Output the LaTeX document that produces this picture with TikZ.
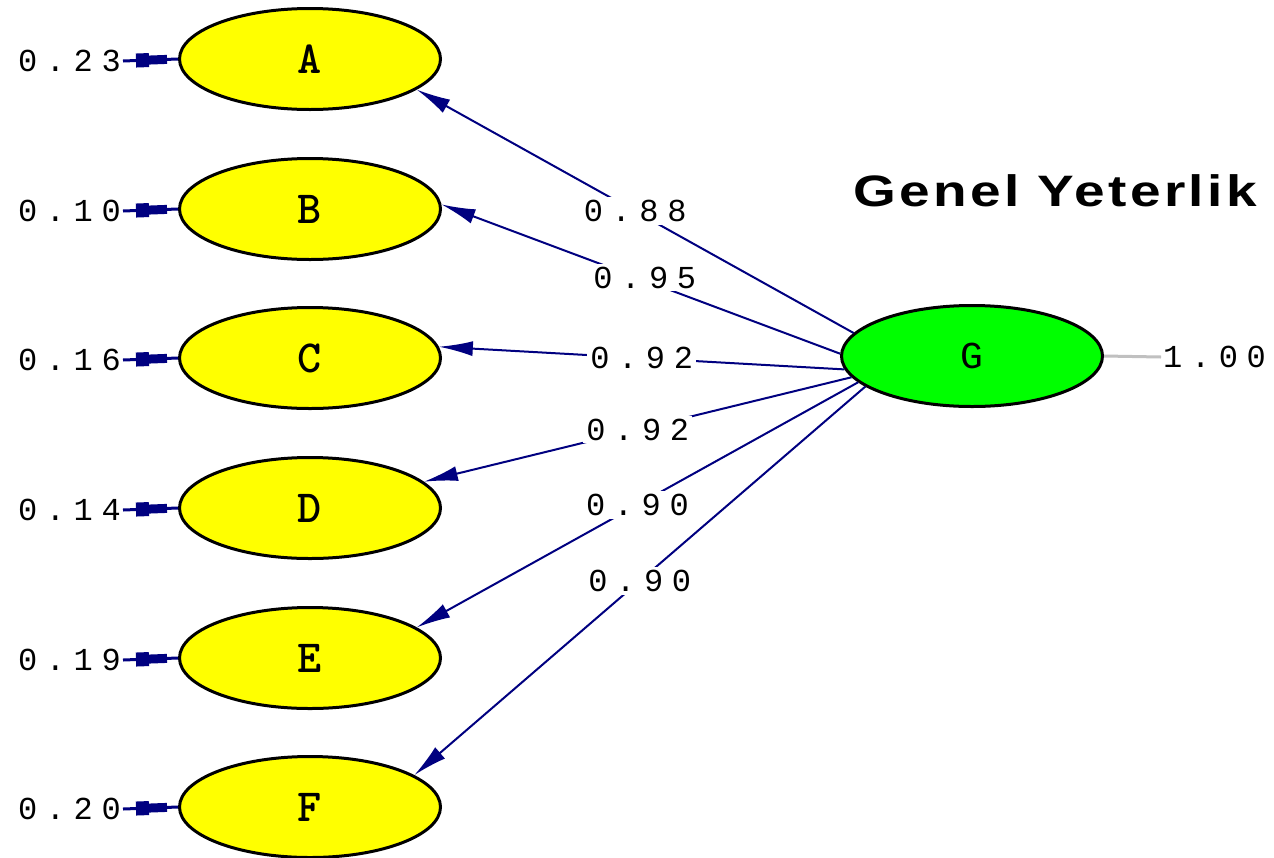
\documentclass[tikz,border=0pt]{standalone}
\usepackage{fontspec}
\setmainfont{Liberation Sans}
\newfontfamily\numfont[LetterSpace=27]{Liberation Mono}
\newfontfamily\gfont{Liberation Mono}
\newfontfamily\letfont{lmmonolt10-bold}[Extension=.otf]
\newfontfamily\titlefont[LetterSpace=6]{Liberation Sans}
\usetikzlibrary{shapes.geometric,arrows.meta,decorations.markings}
\definecolor{navy}{HTML}{000080}
\definecolor{lisyellow}{HTML}{FFFF00}
\definecolor{lisgreen}{HTML}{00FF00}
\definecolor{lisgray}{HTML}{C0C0C0}
\tikzset{
  obs/.style={ellipse, draw=black, line width=3pt, fill=lisyellow, minimum width=261pt, minimum height=101pt, inner sep=0pt, font=\letfont\fontsize{46}{46}\selectfont},
  lat/.style={obs, fill=lisgreen, font=\gfont\fontsize{38}{38}\selectfont},
  num/.style={font=\numfont\fontsize{32}{32}\selectfont, inner sep=2pt},
  errlab/.style={num, anchor=east},
  path lab/.style={num, fill=white, inner sep=3pt},
  loadline/.style={draw=navy, line width=2pt, -{Latex[length=34pt,width=15pt]}},
  errline/.style={draw=navy, line width=3pt,
    postaction={decorate, decoration={markings, mark=at position 13pt with {
      \fill[navy] (0pt,-7pt) rectangle (13pt,7pt);
      \fill[navy] (12pt,-4.5pt) rectangle (31pt,4.5pt);}}}},
}
\begin{document}
\begin{tikzpicture}[x=1pt,y=-1pt]
\useasboundingbox (0,0) rectangle (1274,857);
\fill[white] (0,0) rectangle (1274,857);
% observed variables
\node[obs] (A) at (310,59) {A};
\node[obs] (B) at (310,209) {B};
\node[obs] (C) at (310,358) {C};
\node[obs] (D) at (310,508) {D};
\node[obs] (E) at (310,658) {E};
\node[obs] (F) at (310,807) {F};
% latent
\node[lat] (G) at (972,356) {G};
% error labels
\node[errlab] (eA) at (123,61) {0.23};
\node[errlab] (eB) at (123,211) {0.10};
\node[errlab] (eC) at (123,360) {0.16};
\node[errlab] (eD) at (123,510) {0.14};
\node[errlab] (eE) at (123,660) {0.19};
\node[errlab] (eF) at (123,809) {0.20};
\foreach \e/\v in {eA/A,eB/B,eC/C,eD/D,eE/E,eF/F}{
  \draw[errline] (\e.east) -- (\v.west);
}
% loadings
\draw[loadline] (G.169) -- node[path lab] {0.88} (A.-16);
\draw[loadline] (G.179) -- node[path lab, pos=0.49, yshift=3pt] {0.95} (B.2);
\draw[loadline] (G.186) -- node[path lab] {0.92} (C.5);
\draw[loadline] (G.190) -- node[path lab] {0.92} (D.13);
\draw[loadline] (G.193) -- node[path lab] {0.90} (E.16);
\draw[loadline] (G.196) -- node[path lab] {0.90} (F.17);
% G variance
\node[num, anchor=west] (gv) at (1161,357) {1.00};
\draw[lisgray, line width=3pt] (G.east) -- (gv.west);
% title
\node[font=\titlefont\fontsize{44}{44}\selectfont\bfseries, anchor=center] (title) at (1055,191) {\scalebox{1.25}[1]{Genel Yeterlik}};
\end{tikzpicture}
\end{document}
